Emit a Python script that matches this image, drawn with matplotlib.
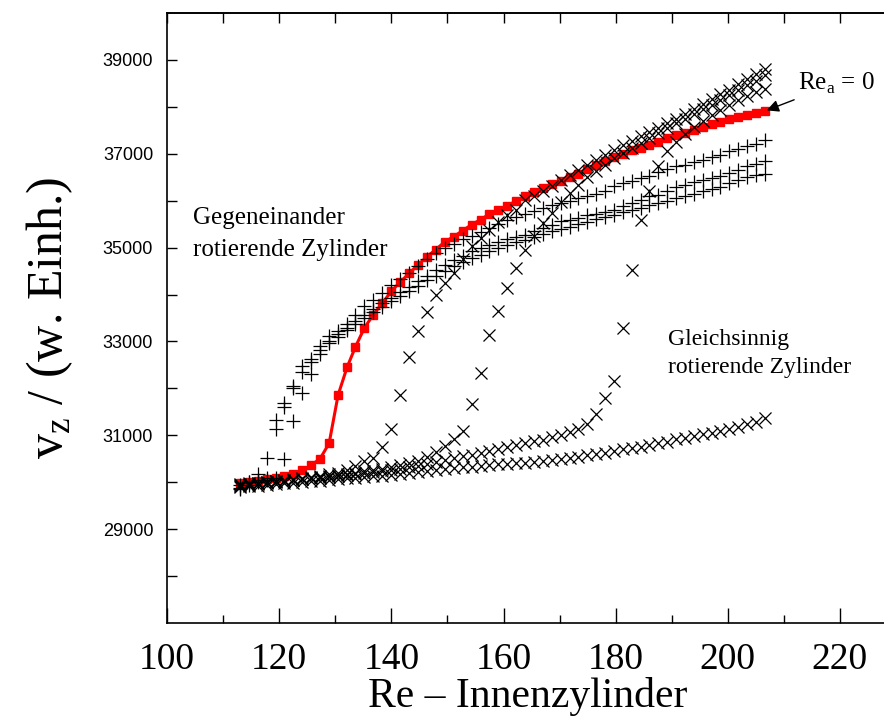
import matplotlib
matplotlib.use("Agg")
import matplotlib.pyplot as plt
from matplotlib.ticker import MultipleLocator, FixedLocator, NullFormatter

plt.rcParams['font.family'] = ['Liberation Serif', 'DejaVu Serif']
plt.rcParams['mathtext.fontset'] = 'custom'
plt.rcParams['mathtext.rm'] = 'Liberation Serif'

# Re of the inner cylinder (common grid of all runs)
re_inner = [113.0, 114.6, 116.2, 117.8, 119.4, 120.9, 122.5, 124.1, 125.7, 127.3,
            128.9, 130.5, 132.1, 133.6, 135.2, 136.8, 138.4, 140.0, 141.6, 143.2,
            144.8, 146.3, 147.9, 149.5, 151.1, 152.7, 154.3, 155.9, 157.5, 159.1,
            160.6, 162.2, 163.8, 165.4, 167.0, 168.6, 170.2, 171.8, 173.3, 174.9,
            176.5, 178.1, 179.7, 181.3, 182.9, 184.5, 186.0, 187.6, 189.2, 190.8,
            192.4, 194.0, 195.6, 197.2, 198.7, 200.3, 201.9, 203.5, 205.1, 206.7]

# Re_a = 0
vz_rea0 = [29990, 30000, 30030, 30060, 30090, 30134, 30170, 30255, 30360, 30504,
           30830, 31858, 32450, 32887, 33291, 33574, 33815, 34072, 34270, 34455,
           34638, 34802, 34957, 35121, 35234, 35361, 35489, 35596, 35716, 35809,
           35894, 35985, 36092, 36177, 36270, 36355, 36420, 36510, 36580, 36681,
           36766, 36837, 36929, 36993, 37071, 37121, 37198, 37262, 37333, 37404,
           37453, 37510, 37574, 37638, 37688, 37738, 37794, 37830, 37879, 37915]

# gegeneinander rotierend (+)
vz_gegen_1 = [29880, 30000, 30170, 30510, 31326, 31681, 32043, 32475, 32617, 32901,
              33113, 33220, 33376, 33574, 33752, 33894, 34036, 34213, 34330, 34470,
              34610, 34760, 34880, 34990, 35080, 35185, 35255, 35326, 35420, 35500,
              35580, 35650, 35720, 35780, 35840, 35900, 35950, 36000, 36057, 36107,
              36149, 36199, 36305, 36376, 36411, 36482, 36518, 36610, 36681, 36730,
              36766, 36816, 36872, 36929, 36979, 37050, 37100, 37156, 37213, 37284]
vz_gegen_2 = [29950, 30000, 30050, 30100, 31128, 31600, 32000, 32355, 32560, 32820,
              33000, 33150, 33290, 33430, 33560, 33690, 33810, 33930, 34050, 34170,
              34290, 34400, 34530, 34640, 34740, 34830, 34920, 34990, 35060, 35130,
              35190, 35227, 35277, 35348, 35418, 35489, 35560, 35596, 35631, 35688,
              35723, 35759, 35809, 35894, 35950, 36021, 36092, 36128, 36199, 36291,
              36341, 36390, 36433, 36482, 36532, 36589, 36660, 36730, 36790, 36837]
vz_gegen_3 = [29850, 29950, 30000, 30050, 30100, 30490, 31298, 31894, 32298, 32723,
              32972, 33100, 33240, 33370, 33500, 33620, 33740, 33860, 33970, 34080,
              34190, 34300, 34400, 34500, 34600, 34690, 34770, 34850, 34920, 34990,
              35050, 35110, 35170, 35230, 35290, 35350, 35400, 35450, 35500, 35550,
              35600, 35650, 35700, 35750, 35800, 35850, 35900, 35950, 36000, 36050,
              36100, 36150, 36200, 36250, 36300, 36370, 36440, 36500, 36540, 36574]

# gleichsinnig rotierend (x)
vz_gleich_0 = [29900, 29915, 29930, 29945, 29960, 29975, 29990, 30005, 30020, 30035,
               30050, 30065, 30080, 30095, 30110, 30125, 30140, 30160, 30180, 30200,
               30220, 30240, 30260, 30280, 30300, 30320, 30335, 30350, 30365, 30380,
               30392, 30404, 30418, 30432, 30454, 30475, 30504, 30525, 30546, 30574,
               30610, 30631, 30667, 30702, 30738, 30759, 30790, 30830, 30858, 30915,
               30950, 30985, 31021, 31057, 31092, 31128, 31170, 31234, 31290, 31379]
vz_gleich_1 = [29950, 29970, 29990, 30010, 30030, 30050, 30070, 30090, 30110, 30140,
               30170, 30200, 30260, 30350, 30454, 30525, 30750, 31130, 31860, 32670,
               33213, 33638, 34000, 34248, 34461, 34760, 35028, 35206, 35383, 35539,
               35702, 35809, 36021, 36110, 36199, 36305, 36440, 36546, 36652, 36759,
               36865, 36972, 37078, 37184, 37277, 37376, 37468, 37560, 37659, 37752,
               37858, 37964, 38070, 38177, 38283, 38369, 38496, 38603, 38710, 38816]
vz_gleich_2 = [29930, 29950, 29970, 29990, 30010, 30030, 30050, 30070, 30090, 30110,
               30130, 30150, 30170, 30200, 30230, 30260, 30290, 30320, 30360, 30400,
               30450, 30530, 30640, 30773, 30930, 31092, 31660, 32333, 33128, 33645,
               34142, 34568, 34957, 35255, 35525, 35738, 35964, 36163, 36340, 36500,
               36640, 36770, 36900, 37010, 37120, 37230, 37340, 37450, 37550, 37650,
               37750, 37850, 37950, 38050, 38150, 38250, 38360, 38460, 38560, 38670]
vz_gleich_3 = [29960, 29975, 29990, 30005, 30020, 30035, 30050, 30065, 30080, 30095,
               30110, 30130, 30150, 30170, 30190, 30210, 30230, 30260, 30290, 30320,
               30350, 30390, 30430, 30470, 30510, 30550, 30590, 30630, 30670, 30710,
               30750, 30790, 30830, 30870, 30910, 30960, 31010, 31071, 31128, 31234,
               31460, 31800, 32155, 33277, 34532, 35589, 36199, 36730, 37050, 37250,
               37420, 37570, 37700, 37820, 37930, 38040, 38140, 38230, 38310, 38390]

x_ticks = [100, 120, 140, 160, 180, 200, 220]
y_ticks = [29000, 31000, 33000, 35000, 37000, 39000]

gegen_series = [vz_gegen_1, vz_gegen_2, vz_gegen_3]
gleich_series = [vz_gleich_0, vz_gleich_1, vz_gleich_2, vz_gleich_3]

fig = plt.figure(figsize=(8.84, 7.24), dpi=100)
# right edge of the frame lies outside the picture
ax = fig.add_axes([0.189, 0.1395, 0.888, 0.8425])

ax.plot(re_inner, vz_rea0, color='red', lw=2.2, marker='s', ms=5.5,
        mec='red', mfc='red', zorder=2)
for vz in gleich_series:
    ax.plot(re_inner, vz, ls='none', marker='x', ms=8, mew=0.9,
            color='black', zorder=3)
for vz in gegen_series:
    ax.plot(re_inner, vz, ls='none', marker='+', ms=10, mew=0.9,
            color='black', zorder=3)

ax.set_xlim(100, 240)
ax.set_ylim(27000, 40000)

ax.xaxis.set_major_locator(FixedLocator(x_ticks))
ax.xaxis.set_minor_locator(FixedLocator([110, 130, 150, 170, 190, 210, 230]))
ax.yaxis.set_major_locator(FixedLocator(y_ticks))
ax.yaxis.set_minor_locator(FixedLocator([28000, 30000, 32000, 34000, 36000, 38000]))
ax.tick_params(axis='x', which='major', direction='in', length=11, width=1,
               pad=14, labelsize=27)
ax.tick_params(axis='x', which='minor', direction='in', length=6, width=1)
ax.tick_params(axis='y', which='both', direction='in', length=7, width=1, pad=10)
for lab in ax.get_yticklabels():
    lab.set_family(['Liberation Sans Narrow', 'Liberation Sans'])
    lab.set_fontsize(13)

top = ax.secondary_xaxis('top')
top.xaxis.set_major_locator(MultipleLocator(10))
top.xaxis.set_major_formatter(NullFormatter())
top.tick_params(direction='in', length=7, width=1)

for s in ax.spines.values():
    s.set_linewidth(1.2)
top.spines['top'].set_linewidth(1.2)

ax.set_xlabel('Re \u2013 Innenzylinder', fontsize=30)
ax.xaxis.set_label_coords(0.459, -0.088)
ax.set_ylabel('v$_\\mathregular{z}$ / (w. Einh.)', fontsize=36, labelpad=20)

ax.text(104.6, 35640, 'Gegeneinander', fontsize=18, va='center', ha='left')
ax.text(104.6, 34960, 'rotierende Zylinder', fontsize=18, va='center', ha='left')
ax.text(189.3, 33043, 'Gleichsinnig', fontsize=17, va='center', ha='left')
ax.text(189.3, 32447, 'rotierende Zylinder', fontsize=17, va='center', ha='left')

ax.annotate('Re$_\\mathregular{a}$ = 0', xy=(re_inner[-1], vz_rea0[-1]),
            xytext=(212.6, 38500), fontsize=18, va='center', ha='left',
            arrowprops=dict(arrowstyle='-|>', color='black', lw=1,
                            mutation_scale=18, shrinkA=2, shrinkB=1))

fig.savefig('out.png', dpi=100)
